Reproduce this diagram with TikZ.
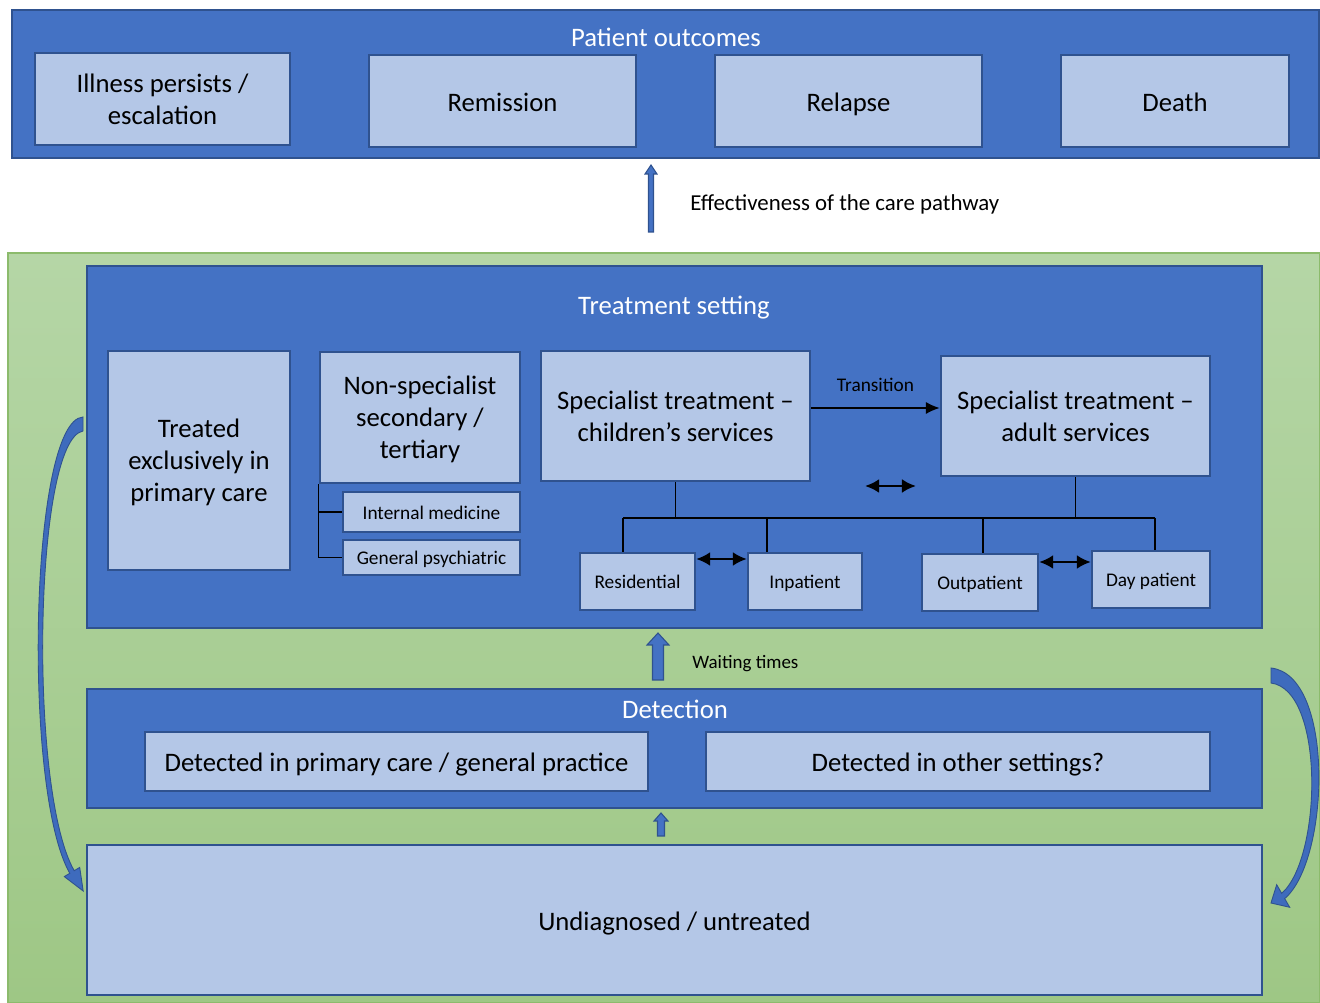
\documentclass[tikz,border=0pt]{standalone}
\usepackage{fontspec}
\setmainfont{Carlito}
\usetikzlibrary{arrows.meta}

\definecolor{boxblue}{HTML}{4472C4}
\definecolor{edgeblue}{HTML}{2F528F}
\definecolor{paleblue}{HTML}{B4C7E7}
\definecolor{greentop}{HTML}{B5D6A6}
\definecolor{greenbot}{HTML}{9EC785}
\definecolor{greenedge}{HTML}{8CBB6C}
\definecolor{curveblue}{HTML}{3E6BBD}

% x, tail y, tip y, shaft half width, head half width, head length
\newcommand{\blockup}[6]{%
        \draw[blockarrow] (#1-#4,#2) -- (#1-#4,#3+#6) -- (#1-#5,#3+#6) -- (#1,#3)
                -- (#1+#5,#3+#6) -- (#1+#4,#3+#6) -- (#1+#4,#2) -- cycle;}

\begin{document}
\begin{tikzpicture}[x=0.02cm, y=-0.02cm,
        wh/.style 2 args={minimum width=#1*0.02cm, minimum height=#2*0.02cm},
        bigtext/.style={font=\fontsize{15.2}{18.1}\selectfont},
        smalltext/.style={font=\fontsize{11}{13}\selectfont},
        panel/.style={draw=edgeblue, fill=boxblue, line width=1.1pt, inner sep=0pt},
        item/.style={draw=edgeblue, fill=paleblue, line width=1.3pt, inner sep=0pt, align=center, bigtext},
        multi/.style={item, text depth=0pt, execute at begin node={\rule{0pt}{13.8pt}}},
        single/.style={item, text height=14.5pt, text depth=3pt},
        subitem/.style={item, smalltext, text height=10.2pt, text depth=2pt},
        title/.style={text=white, inner sep=0pt, bigtext, text height=14.5pt, text depth=3pt},
        treeline/.style={black, line width=0.7pt},
        blockarrow/.style={draw=edgeblue, fill=boxblue, line width=0.6pt, line join=miter},
        curvearrow/.style={draw=edgeblue, fill=curveblue, line width=0.5pt},
        dblarrow/.style={black, line width=1.6pt, {Latex[length=8pt, width=8pt]}-{Latex[length=8pt, width=8pt]}}]
        \useasboundingbox (0,0) rectangle (1320,1003);

        % outcomes
        \node[panel, wh={1307}{148}] (outc) at (665.5,84) {};
        \node[title] (outctitle) at (666,36) {Patient outcomes};
        \node[item, text depth=0pt, wh={255}{92}] (illness) at (162.5,99) {Illness persists /\\escalation};
        \node[single, wh={267}{92}] (remission) at (502.5,101) {Remission};
        \node[single, wh={267}{92}] (relapse) at (848.5,101) {Relapse};
        \node[single, wh={228}{92}] (death) at (1175,101) {Death};

        \blockup{651}{232}{165}{2.5}{6}{9}
        \node[anchor=west, inner sep=0pt, font=\fontsize{13}{15}\selectfont] (efftext) at (690,204) {Effectiveness of the care pathway};

        % green background
        \shade[top color=greentop, bottom color=greenbot, draw=greenedge, line width=0.8pt] (8,253) rectangle (1319.5,1002.5);

        % treatment setting
        \node[panel, wh={1175}{362}] (treat) at (674.5,447) {};
        \node[title] (treattitle) at (674,304) {Treatment setting};
        \node[multi, wh={182}{219}] (primary) at (199,460.5) {Treated\\exclusively in\\primary care};
        \node[multi, wh={200}{131}] (nonspec) at (420,417.5) {Non-specialist\\secondary /\\tertiary};
        \node[subitem, wh={177}{40}] (intmed) at (431.5,512) {Internal medicine};
        \node[subitem, wh={177}{35}] (genpsy) at (431.5,557.5) {General psychiatric};
        \node[multi, wh={269}{130}] (child) at (675.5,416) {Specialist treatment --\\children’s services};
        \node[multi, wh={269}{120}] (adult) at (1075.5,416) {Specialist treatment --\\adult services};
        \node[subitem, wh={115}{57}] (resid) at (637.5,581.5) {Residential};
        \node[subitem, wh={114}{57}] (inpat) at (805,581.5) {Inpatient};
        \node[subitem, wh={116}{57}] (outpat) at (980,582.5) {Outpatient};
        \node[subitem, wh={118}{57}] (daypat) at (1151,579.5) {Day patient};

        \draw[treeline] (nonspec.south west) |- (genpsy.west);
        \draw[treeline] (nonspec.south west |- intmed.west) -- (intmed.west);

        \coordinate (busL) at (623,518);
        \coordinate (busR) at (1155,518);
        \draw[treeline] (busL) -- (busR);
        \draw[treeline] (child.south) -- (child.south |- busL);
        \draw[treeline] (adult.south) -- (adult.south |- busL);
        \foreach \b/\x in {resid/623, inpat/767, outpat/983, daypat/1155}
                \draw[treeline] (\x,518) -- (\x,0 |- \b.north);

        \draw[black, line width=1.1pt, -{Latex[length=8pt, width=7pt]}] (child.east |- 0,408) -- (adult.west |- 0,408)
                node[midway, above=8.5pt, inner sep=0pt, smalltext] (transtext) {Transition};
        \coordinate (swapL) at (865,486);
        \coordinate (swapR) at (916,486);
        \draw[dblarrow] (swapL) -- (swapR);
        \draw[dblarrow] (resid.east |- 0,559) -- (inpat.west |- 0,559);
        \draw[dblarrow] (outpat.east |- 0,562) -- (daypat.west |- 0,562);

        \blockup{658}{680}{633}{5.5}{11}{12}
        \node[anchor=west, inner sep=0pt, font=\fontsize{10.8}{13}\selectfont] (waittext) at (692,664) {Waiting times};

        % detection
        \node[panel, wh={1175}{119}] (detect) at (674.5,748.5) {};
        \node[title] (detecttitle) at (675,708) {Detection};
        \node[single, wh={503}{59}] (detprim) at (396.5,761.5) {Detected in primary care / general practice};
        \node[single, wh={504}{59}] (detother) at (958,761.5) {Detected in other settings?};

        \blockup{661}{836}{813}{3.5}{7}{8}

        % undiagnosed
        \node[single, wh={1175}{150}] (undiag) at (674.5,920) {Undiagnosed / untreated};

        % loops back to undiagnosed
        \draw[curvearrow] (83,417) .. controls (30,420) and (22,790) .. (69.8,873.3)
                -- (64.3,876.6) -- (83.2,891) -- (79.7,867.4) -- (74.2,870.7)
                .. controls (28,790) and (34,440) .. (83,431) -- cycle;
        \draw[curvearrow] (1271,668) .. controls (1335,675) and (1330,860) .. (1284.7,898.6)
                -- (1289.7,907.3) -- (1271,903) -- (1276.7,884.7) -- (1281.7,893.4)
                .. controls (1322,858) and (1325,690) .. (1271,683) -- cycle;
\end{tikzpicture}
\end{document}
